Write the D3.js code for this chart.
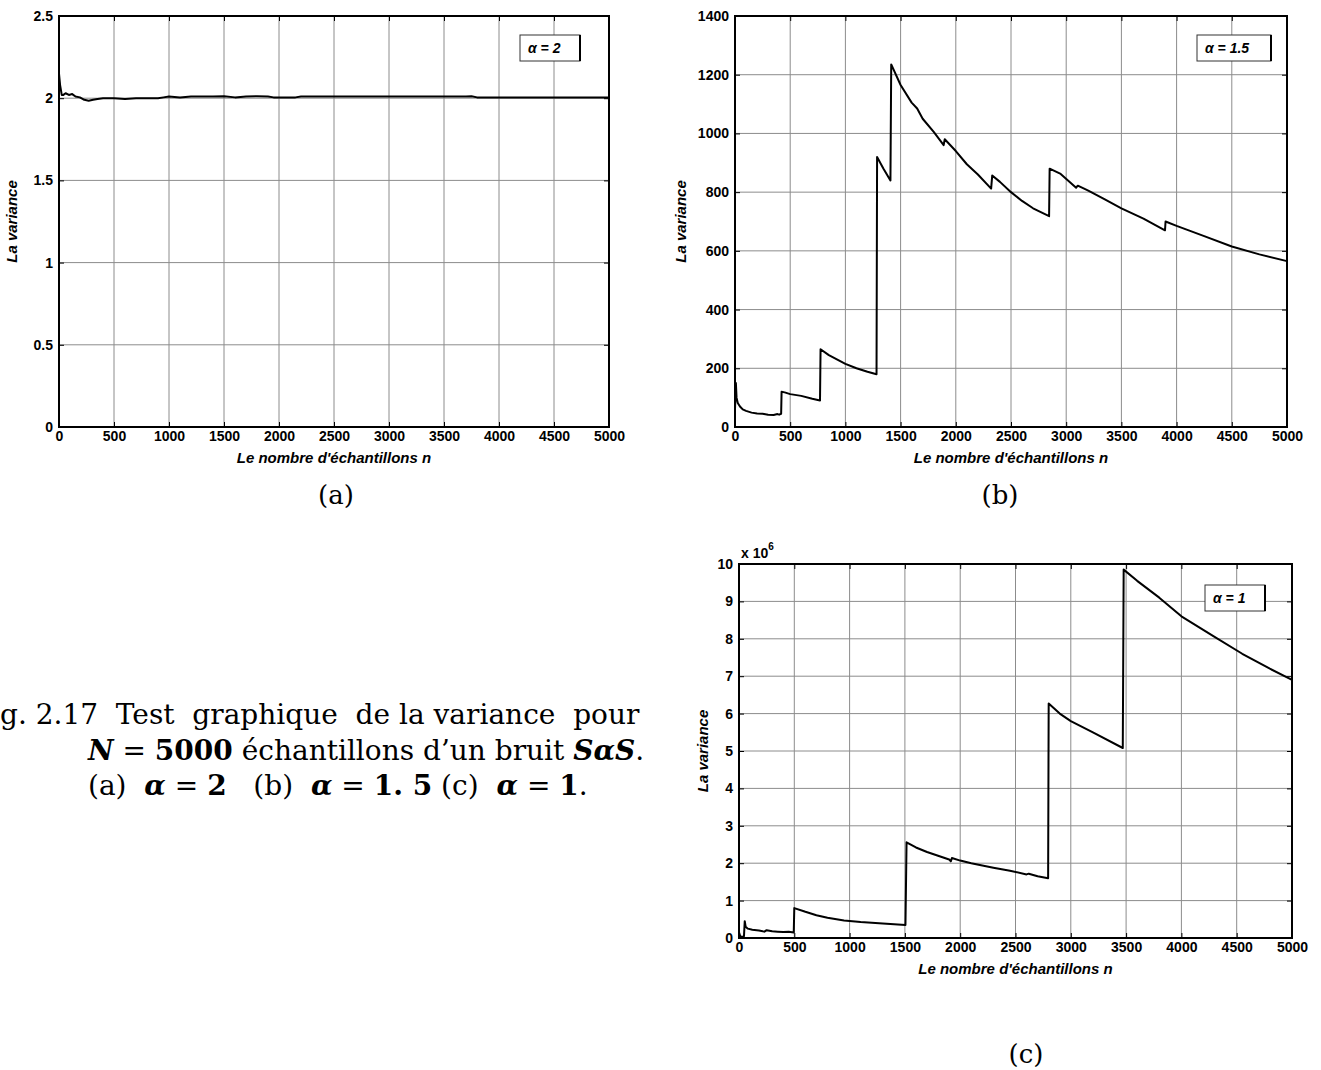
<!DOCTYPE html>
<html>
<head>
<meta charset="utf-8">
<script src="https://cdn.jsdelivr.net/npm/d3@7"></script>
<style>
  body { margin: 0; background: #fff; }
  svg { display: block; }
  .tick text { font-family: "Liberation Sans", Arial, sans-serif; font-weight: bold; font-size: 14px; fill: #000; }
  .axis-title { font-family: "Liberation Sans", Arial, sans-serif; font-weight: bold; font-style: italic; font-size: 15px; }
  .cap { font-family: "DejaVu Serif", serif; font-size: 28px; fill: #000; }
</style>
</head>
<body>
<svg width="1321" height="1070"></svg>
<script>
// shared axes
const xTicks = [0, 500, 1000, 1500, 2000, 2500, 3000, 3500, 4000, 4500, 5000];
const xTitle = "Le nombre d'échantillons n";
const yTitle = "La variance";

// (a) alpha = 2
const yTicksA = [0, 0.5, 1, 1.5, 2, 2.5];
const nA   = [0, 10, 25, 40, 60, 90, 120, 150, 190, 230, 270, 310, 350, 400, 500, 600, 700, 800, 900, 950, 1000, 1100, 1200, 1400, 1500, 1600, 1700, 1800, 1900, 1950, 2000, 2150, 2200, 2500, 3000, 3500, 3700, 3750, 3800, 4000, 4500, 5000];
const varA = [2.15, 2.08, 2.02, 2.02, 2.03, 2.02, 2.025, 2.01, 2.005, 1.99, 1.985, 1.99, 1.995, 2.0, 2.0, 1.995, 2.0, 2.0, 2.0, 2.005, 2.01, 2.005, 2.01, 2.01, 2.012, 2.005, 2.01, 2.012, 2.01, 2.005, 2.005, 2.005, 2.01, 2.01, 2.01, 2.01, 2.01, 2.012, 2.005, 2.005, 2.005, 2.005];

// (b) alpha = 1.5
const yTicksB = [0, 200, 400, 600, 800, 1000, 1200, 1400];
const nB   = [0, 8, 14, 25, 45, 70, 100, 150, 200, 250, 300, 350, 385, 400, 418, 422, 450, 500, 600, 700, 770, 775, 850, 1000, 1100, 1200, 1282, 1287, 1345, 1408, 1415, 1500, 1600, 1650, 1700, 1800, 1890, 1900, 2000, 2100, 2200, 2320, 2330, 2400, 2500, 2600, 2700, 2845, 2850, 2950, 3090, 3105, 3200, 3350, 3500, 3700, 3895, 3900, 4000, 4250, 4500, 4750, 5000];
const varB = [60, 150, 100, 82, 70, 60, 55, 49, 46, 45, 42, 41, 44, 42, 45, 120, 118, 112, 106, 96, 90, 265, 245, 215, 200, 188, 180, 920, 880, 840, 1235, 1165, 1105, 1085, 1050, 1005, 960, 980, 940, 895, 860, 812, 857, 835, 800, 770, 745, 718, 880, 862, 815, 822, 805, 775, 745, 710, 670, 700, 685, 650, 615, 588, 565];

// (c) alpha = 1, values x 10^6
const yTicksC = [0, 1, 2, 3, 4, 5, 6, 7, 8, 9, 10];
const nC   = [0, 10, 25, 45, 52, 60, 80, 120, 180, 230, 250, 300, 350, 400, 450, 495, 500, 600, 700, 800, 950, 1100, 1300, 1505, 1515, 1600, 1700, 1800, 1900, 1915, 1925, 2000, 2100, 2200, 2300, 2450, 2600, 2620, 2700, 2795, 2800, 2900, 3000, 3200, 3470, 3478, 3600, 3800, 4000, 4300, 4550, 4800, 5000];
const varC = [0.15, 0.06, 0.02, 0.05, 0.45, 0.3, 0.25, 0.22, 0.2, 0.17, 0.21, 0.18, 0.17, 0.16, 0.17, 0.15, 0.8, 0.7, 0.61, 0.54, 0.47, 0.43, 0.39, 0.35, 2.56, 2.42, 2.3, 2.2, 2.1, 2.05, 2.14, 2.07, 2.0, 1.94, 1.88, 1.8, 1.7, 1.72, 1.65, 1.6, 6.27, 6.0, 5.8, 5.5, 5.08, 9.85, 9.55, 9.1, 8.6, 8.05, 7.6, 7.2, 6.9];

const panels = [
  { n: nA, v: varA, yTicks: yTicksA, yMax: 2.5, legend: "α = 2",   left: 59,  right: 609,  top: 16,  bottom: 427, legendBox: [520, 35, 60, 26], tag: "(a)", tagPos: [336, 504], yTitleX: 17 },
  { n: nB, v: varB, yTicks: yTicksB, yMax: 1400, legend: "α = 1.5", left: 735, right: 1287, top: 16,  bottom: 427, legendBox: [1197, 35, 74, 26], tag: "(b)", tagPos: [1000, 504], yTitleX: 686 },
  { n: nC, v: varC, yTicks: yTicksC, yMax: 10,  legend: "α = 1",   left: 739, right: 1292, top: 564, bottom: 938, legendBox: [1205, 585, 60, 26], tag: "(c)", tagPos: [1026, 1063], yTitleX: 708, exp: true }
];

const svg = d3.select("svg");

panels.forEach(p => {
  const x = d3.scaleLinear().domain([0, 5000]).range([p.left, p.right]);
  const y = d3.scaleLinear().domain([0, p.yMax]).range([p.bottom, p.top]);
  const g = svg.append("g");

  // grid
  g.selectAll(".vgrid").data(xTicks.slice(1, -1)).enter().append("line")
    .attr("x1", d => x(d)).attr("x2", d => x(d))
    .attr("y1", p.top).attr("y2", p.bottom)
    .attr("stroke", "#8c8c8c").attr("stroke-width", 1);
  g.selectAll(".hgrid").data(p.yTicks.slice(1, -1)).enter().append("line")
    .attr("x1", p.left).attr("x2", p.right)
    .attr("y1", d => y(d)).attr("y2", d => y(d))
    .attr("stroke", "#8c8c8c").attr("stroke-width", 1);

  // axes, ticks pointing inward
  const fmt = d => String(d);
  g.append("g").attr("transform", `translate(0,${p.bottom})`)
    .call(d3.axisBottom(x).tickValues(xTicks).tickFormat(fmt).tickSizeInner(-5).tickSizeOuter(0).tickPadding(4))
    .call(a => a.select(".domain").remove());
  g.append("g").attr("transform", `translate(0,${p.top})`)
    .call(d3.axisTop(x).tickValues(xTicks).tickFormat("").tickSizeInner(-5).tickSizeOuter(0))
    .call(a => a.select(".domain").remove());
  g.append("g").attr("transform", `translate(${p.left},0)`)
    .call(d3.axisLeft(y).tickValues(p.yTicks).tickFormat(fmt).tickSizeInner(-5).tickSizeOuter(0).tickPadding(6))
    .call(a => a.select(".domain").remove());
  g.append("g").attr("transform", `translate(${p.right},0)`)
    .call(d3.axisRight(y).tickValues(p.yTicks).tickFormat("").tickSizeInner(-5).tickSizeOuter(0))
    .call(a => a.select(".domain").remove());
  g.selectAll(".tick line").attr("stroke", "#000");

  // frame
  g.append("rect").attr("x", p.left).attr("y", p.top)
    .attr("width", p.right - p.left).attr("height", p.bottom - p.top)
    .attr("fill", "none").attr("stroke", "#000").attr("stroke-width", 2);

  // curve
  const line = d3.line().x((d, i) => x(p.n[i])).y(d => y(d));
  g.append("path").datum(p.v).attr("d", line)
    .attr("fill", "none").attr("stroke", "#000").attr("stroke-width", 2).attr("stroke-linejoin", "round");

  // legend
  const [lx, ly, lw, lh] = p.legendBox;
  g.append("rect").attr("x", lx).attr("y", ly).attr("width", lw).attr("height", lh)
    .attr("fill", "#fff").attr("stroke", "#333").attr("stroke-width", 1);
  g.append("line").attr("x1", lx + lw).attr("x2", lx + lw).attr("y1", ly).attr("y2", ly + lh)
    .attr("stroke", "#000").attr("stroke-width", 2);
  g.append("text").attr("x", lx + 8).attr("y", ly + 18)
    .attr("class", "axis-title").style("font-size", "14px").text(p.legend);

  // titles
  g.append("text").attr("class", "axis-title").attr("text-anchor", "middle")
    .attr("x", (p.left + p.right) / 2).attr("y", p.bottom + 36).text(xTitle);
  g.append("text").attr("class", "axis-title").attr("text-anchor", "middle")
    .attr("transform", `translate(${p.yTitleX},${(p.top + p.bottom) / 2}) rotate(-90)`).text(yTitle);

  if (p.exp) {
    const t = g.append("text").attr("x", p.left + 2).attr("y", p.top - 6)
      .style("font-family", "Liberation Sans, Arial, sans-serif").style("font-weight", "bold").style("font-size", "14px");
    t.append("tspan").text("x 10");
    t.append("tspan").attr("dy", -8).style("font-size", "10px").text("6");
  }

  svg.append("text").attr("class", "cap").style("font-size", "26px").attr("text-anchor", "middle")
    .attr("x", p.tagPos[0]).attr("y", p.tagPos[1]).text(p.tag);
});

// caption (the figure number is cut at the page edge in the source: only "g. 2.17" shows)
const capLines = [
  [["g. 2.17  Test  graphique  de la variance  pour", ""]],
  [["N", "i"], [" = ", ""], ["5000", "b"], [" échantillons d’un bruit ", ""], ["SαS", "i"], [".", ""]],
  [["(a)  ", ""], ["α", "i"], [" = ", ""], ["2", "b"], ["   (b)  ", ""], ["α", "i"], [" = ", ""], ["1. 5", "b"], [" (c)  ", ""], ["α", "i"], [" = ", ""], ["1", "b"], [".", ""]]
];
const capX = [0, 88, 88];
const capY = [724, 760, 795];
capLines.forEach((parts, i) => {
  const t = svg.append("text").attr("class", "cap").attr("x", capX[i]).attr("y", capY[i]).attr("xml:space", "preserve").style("white-space", "pre");
  parts.forEach(([s, st]) => {
    const ts = t.append("tspan").text(s);
    if (st === "i") ts.style("font-style", "italic").style("font-weight", "bold");
    if (st === "b") ts.style("font-weight", "bold");
  });
});
</script>
</body>
</html>
